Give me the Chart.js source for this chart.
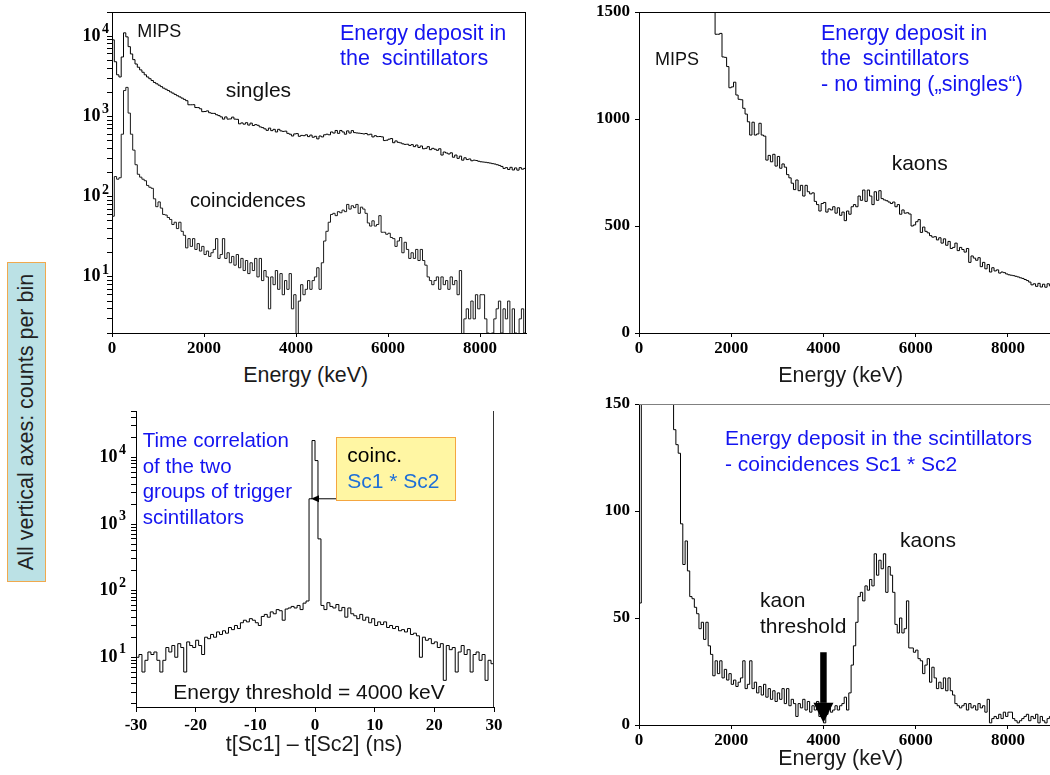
<!DOCTYPE html>
<html><head><meta charset="utf-8">
<script src="https://cdn.jsdelivr.net/npm/chart.js@4.4.1/dist/chart.umd.min.js"></script>
<style>
html,body{margin:0;padding:0;background:#fff;}
body{width:1050px;height:775px;overflow:hidden;position:relative;}
canvas{position:absolute;}
.lbl{position:absolute;white-space:pre;font-family:"Liberation Sans",Arial,sans-serif;}
.box{position:absolute;box-sizing:border-box;}
</style></head><body>
<script>
// ---------------- DATA ----------------
// energy spectra: 50 keV bins starting at 0 keV
const energyBinStart = 0;
const energyBinWidth = 50;
const singlesCounts = [
 9000,4800,3300,3100,5500,11000,9800,7400,6000,5100,
 4500,4100,3800,3550,3300,3100,2950,2800,2650,2550,
 2450,2350,2250,2180,2100,2020,1950,1880,1810,1750,
 1690,1630,1570,1396,1396,1400,1290,1288,1245,1146,
 1150,1172,1112,1092,1090,1050,1023,987,925,985,
 925,930,980,925,920,808,830,800,835,780,
 825,770,790,775,740,725,700,670,715,665,
 690,640,690,660,650,655,615,600,570,605,
 610,565,580,575,590,560,585,550,565,525,
 570,555,590,600,590,640,620,668,615,668,
 640,600,660,620,665,628,622,618,612,605,
 612,590,600,555,575,560,562,556,500,505,
 520,530,470,495,475,468,455,448,450,435,
 445,420,440,410,428,395,400,420,385,400,
 390,378,395,330,360,350,340,352,310,330,
 300,320,285,305,290,295,280,285,282,276,
 272,270,268,265,262,258,255,250,245,238,
 225,230,218,232,215,228,214,230,220,225
];
const coincCounts = [
 57,178,165,172,600,2100,2300,1100,600,380,
 250,190,175,165,158,138,131,127,94,75,
 86,72,60,59,55,52,45,48,40,48,
 37,33,23,30,24,30,22,26,21,24,
 19,21,18,20,22,30,17,19,30,17,
 20,15,18,14,19,13,17,12,16,11,
 15,12,17,10,17,9,12,10,4,10,
 8,12,7,11,6,9,7,11,4,6,
 1,5,8,6,7,9,7,9,10,13,
 7,15,28,37,48,60,62,58,65,63,
 68,65,80,70,77,73,80,62,74,70,
 62,47,43,50,43,45,58,36,36,34,
 35,31,30,24,28,31,20,27,22,17,
 20,17,22,16,22,16,14,10,9,8,
 9,10,7,10,8,9,7,10,8,9,
 6,12,1,3,4,3,5,3,6,4,
 6,6,3,2,1,2,3,4,5,2,
 4,3,5,1,4,2,1,3,4,2
];
// time difference spectrum: 0.5 ns bins starting at -30 ns
const timeBinStart = -30;
const timeBinWidth = 0.5;
const timeCounts = [
 10,11,6,9,12,11,12,9,6,9,
 14,12,15,10,16,14,6,17,15,14,
 18,15,11,20,19,22,20,24,22,25,
 23,28,26,30,27,33,36,34,38,36,
 33,30,41,44,40,48,45,52,50,36,
 53,55,58,55,60,52,65,70,
 2400,18000,9000,600,
 60,52,66,58,55,62,50,56,40,55,
 45,42,38,44,36,40,33,38,30,34,
 31,34,28,30,27,29,25,26,24,27,
 22,23,21,10,20,18,19,16,17,14,
 16,4.5,15,13,14,6,12,15,11,13,
 6,11,12,9,11,4.5,9,8
];
// tick labels
const energyTicks = [0, 2000, 4000, 6000, 8000];
const timeTicks = [-30, -20, -10, 0, 10, 20, 30];
const logDecadeTicks = [10, 100, 1000, 10000];
const singlesLinTicks = [0, 500, 1000, 1500];
const coincLinTicks = [0, 50, 100, 150];

// ---------------- HELPERS ----------------
const BLUE = '#1414f0';
const SERIF = '"Liberation Serif", "Times New Roman", serif';
const TICK_FONT = {family: SERIF, weight: 'bold', size: 17};

function histPoints(start, width, counts) {
  const pts = counts.map((c, i) => ({x: start + i * width, y: c}));
  pts.push({x: start + counts.length * width, y: counts[counts.length - 1]});
  return pts;
}
function logTickList(min, max) {
  const out = [];
  for (let e = 0; e <= 5; e++) for (let m = 1; m <= 9; m++) {
    const v = m * Math.pow(10, e);
    if (v >= min && v <= max) out.push({value: v, major: m === 1});
  }
  return out;
}

const framePlugin = {
  id: 'frame',
  afterDatasetsDraw(chart, args, opts) {
    const {ctx, chartArea: a} = chart;
    ctx.save();
    ctx.lineWidth = 1;
    if (opts.top) {
      ctx.strokeStyle = opts.top;
      ctx.beginPath(); ctx.moveTo(a.left, Math.round(a.top) + 0.5); ctx.lineTo(a.right, Math.round(a.top) + 0.5); ctx.stroke();
    }
    if (opts.right) {
      ctx.strokeStyle = opts.right;
      ctx.beginPath(); ctx.moveTo(Math.round(a.right) - 0.5, a.top); ctx.lineTo(Math.round(a.right) - 0.5, a.bottom); ctx.stroke();
    }
    ctx.restore();
  }
};
const arrowPlugin = {
  id: 'arrows',
  afterDatasetsDraw(chart, args, opts) {
    const {ctx} = chart;
    const xs = chart.scales.x, ys = chart.scales.y;
    (opts.items || []).forEach(a => {
      const x1 = xs.getPixelForValue(a.x1), y1 = ys.getPixelForValue(a.y1);
      const x2 = xs.getPixelForValue(a.x2), y2 = ys.getPixelForValue(a.y2);
      const ang = Math.atan2(y2 - y1, x2 - x1);
      const bx = x2 - a.headLength * Math.cos(ang), by = y2 - a.headLength * Math.sin(ang);
      const hw = a.headWidth / 2;
      ctx.save();
      ctx.strokeStyle = a.color; ctx.fillStyle = a.color;
      ctx.lineWidth = a.shaftWidth;
      ctx.beginPath(); ctx.moveTo(x1, y1); ctx.lineTo(bx, by); ctx.stroke();
      ctx.beginPath();
      ctx.moveTo(x2, y2);
      ctx.lineTo(bx - hw * Math.sin(ang), by + hw * Math.cos(ang));
      ctx.lineTo(bx + hw * Math.sin(ang), by - hw * Math.cos(ang));
      ctx.closePath(); ctx.fill();
      ctx.restore();
    });
  }
};
// decade labels "10" with a raised exponent, placed at the log scale's own tick pixels
const logLabelPlugin = {
  id: 'logLabels',
  afterDraw(chart, args, opts) {
    if (!opts || opts.gap === undefined) return;
    const ys = chart.scales.y, ctx = chart.ctx;
    ctx.save();
    ctx.fillStyle = '#000';
    ctx.textAlign = 'right';
    ctx.textBaseline = 'alphabetic';
    logDecadeTicks.forEach(v => {
      if (v < ys.min || v > ys.max) return;
      const py = ys.getPixelForValue(v);
      const xr = ys.right - opts.gap;
      const exp = String(Math.round(Math.log10(v)));
      ctx.font = 'bold ' + opts.supSize + 'px ' + SERIF;
      ctx.fillText(exp, xr, py + opts.supDy);
      const w = ctx.measureText(exp).width;
      ctx.font = 'bold ' + opts.size + 'px ' + SERIF;
      ctx.fillText('10', xr - w - opts.space, py + opts.dy);
    });
    ctx.restore();
  }
};

function xScale(min, max, ticks, xH, tl, pad) {
  return {
    type: 'linear', min, max, offset: false,
    afterBuildTicks: s => { s.ticks = ticks.map(v => ({value: v})); },
    afterFit: s => { s.height = xH; },
    ticks: {autoSkip: false, maxRotation: 0, padding: pad, color: '#000', font: TICK_FONT, callback: v => String(v)},
    grid: {display: true, drawOnChartArea: false, drawTicks: true, tickLength: tl, color: '#000', tickColor: '#000'},
    border: {display: true, color: '#000', width: 1}
  };
}
function yLogScale(min, max, yW, tl) {
  return {
    type: 'logarithmic', min, max,
    afterBuildTicks: s => { s.ticks = logTickList(min, max); },
    afterFit: s => { s.width = yW; },
    ticks: {autoSkip: false, padding: 0, color: '#000', font: TICK_FONT, callback: () => ''},
    grid: {display: true, drawOnChartArea: false, drawTicks: true, tickLength: tl, color: '#000', tickColor: '#000'},
    border: {display: true, color: '#000', width: 1}
  };
}
function yLinScale(min, max, ticks, yW, tl, pad) {
  return {
    type: 'linear', min, max,
    afterBuildTicks: s => { s.ticks = ticks.map(v => ({value: v})); },
    afterFit: s => { s.width = yW; },
    ticks: {autoSkip: false, padding: pad, color: '#000', font: TICK_FONT, callback: v => String(v)},
    grid: {display: true, drawOnChartArea: false, drawTicks: true, tickLength: tl, color: '#000', tickColor: '#000'},
    border: {display: true, color: '#000', width: 1}
  };
}
function histDataset(points, color) {
  return {data: points, borderColor: color, borderWidth: 1, pointRadius: 0, stepped: true, fill: false, clip: 0, tension: 0};
}

// panel geometry: chart area in page pixels
const PT = 20, PR = 20;
function makePanel(area, yW, xH, scales, datasets, pluginOpts) {
  const c = document.createElement('canvas');
  const w = yW + (area.R - area.L) + PR;
  const h = PT + (area.B - area.T) + xH;
  c.width = w; c.height = h;
  c.style.width = w + 'px'; c.style.height = h + 'px';
  c.style.left = (area.L - yW) + 'px'; c.style.top = (area.T - PT) + 'px';
  document.body.appendChild(c);
  return new Chart(c.getContext('2d'), {
    type: 'line',
    data: {datasets},
    options: {
      responsive: false, animation: false, events: [],
      layout: {padding: {top: PT, right: PR, left: 0, bottom: 0}},
      scales,
      plugins: Object.assign({legend: {display: false}, tooltip: {enabled: false}}, pluginOpts)
    },
    plugins: [framePlugin, arrowPlugin, logLabelPlugin]
  });
}

Chart.defaults.font.family = '"Liberation Sans", Arial, sans-serif';

const singlesPts = histPoints(energyBinStart, energyBinWidth, singlesCounts);
const coincPts = histPoints(energyBinStart, energyBinWidth, coincCounts);
const timePts = histPoints(timeBinStart, timeBinWidth, timeCounts);

// Panel 1: log, singles + coincidences
makePanel({L: 112, T: 12, R: 526, B: 333}, 70, 30,
  {x: xScale(0, 9000, energyTicks, 30, 4, 1), y: yLogScale(2, 20000, 70, 5)},
  [histDataset(singlesPts, '#000'), histDataset(coincPts, '#1a1a1a')],
  {frame: {top: '#000', right: '#000'},
   logLabels: {gap: 3, size: 18, supSize: 14, dy: 4.5, supDy: -3, space: 1.5}});

// Panel 2: linear singles
makePanel({L: 639, T: 12, R: 1054, B: 333}, 60, 30,
  {x: xScale(0, 9000, energyTicks, 30, 4, 1), y: yLinScale(0, 1500, singlesLinTicks, 60, 4, 5)},
  [histDataset(singlesPts, '#000')],
  {frame: {top: '#000'}});

// Panel 3: time correlation, log
makePanel({L: 136, T: 411, R: 494, B: 707}, 60, 34,
  {x: xScale(-30, 30, timeTicks, 34, 5, 3), y: yLogScale(1.79, 50000, 60, 5)},
  [histDataset(timePts, '#000')],
  {frame: {right: '#333'},
   logLabels: {gap: 10, size: 18, supSize: 14, dy: 4.5, supDy: -4, space: 1.5},
   arrows: {items: [{x1: 3.52, y1: 2400, x2: -0.67, y2: 2400, color: '#000', shaftWidth: 1, headLength: 8, headWidth: 7}]}});

// Panel 4: linear coincidences
makePanel({L: 639, T: 404, R: 1054, B: 725}, 60, 30,
  {x: xScale(0, 9000, energyTicks, 30, 4, 1), y: yLinScale(0, 150, coincLinTicks, 60, 4, 5)},
  [histDataset(coincPts, '#000')],
  {frame: {top: '#808080'},
   arrows: {items: [{x1: 4000, y1: 34, x2: 4000, y2: 1, color: '#000', shaftWidth: 6.5, headLength: 20, headWidth: 20}]}});

// ---------------- BOXES & TEXT ----------------
function addBox(x, y, w, h, bg, border) {
  const d = document.createElement('div');
  d.className = 'box';
  Object.assign(d.style, {left: x + 'px', top: y + 'px', width: w + 'px', height: h + 'px', background: bg, border: '1.5px solid ' + border});
  document.body.appendChild(d);
  return d;
}
function addText(n) {
  const d = document.createElement('div');
  d.className = 'lbl';
  const gap = n.g || n.s * 1.2;
  d.style.fontSize = n.s + 'px';
  d.style.lineHeight = gap + 'px';
  d.style.color = n.c;
  d.style.left = n.x + 'px';
  d.style.top = (n.b - ((gap - 1.117 * n.s) / 2 + 0.905 * n.s)) + 'px';
  d.textContent = n.t.join('\n');
  document.body.appendChild(d);
}

// rotated side label
const side = addBox(7, 262, 39, 320, '#bbe1e5', '#f0a94e');
const sideTxt = document.createElement('div');
sideTxt.className = 'lbl';
Object.assign(sideTxt.style, {left: '50%', top: '50%', fontSize: '21.5px', lineHeight: '21.5px', color: '#222',
  transform: 'translate(-50%,-50%) rotate(-90deg)'});
sideTxt.textContent = 'All vertical axes: counts per bin';
side.appendChild(sideTxt);

// yellow box in panel 3
addBox(336, 437, 120, 64, '#fff6a3', '#f4a640');

const notes = [
  {t: ['MIPS'], x: 137.3, b: 38.3, s: 18, c: '#111'},
  {t: ['Energy deposit in', 'the  scintillators'], x: 340, b: 41, s: 21.5, c: BLUE, g: 25.7},
  {t: ['singles'], x: 225.7, b: 96.7, s: 21, c: '#111'},
  {t: ['coincidences'], x: 190, b: 207.3, s: 20, c: '#111'},
  {t: ['Energy (keV)'], x: 243.3, b: 383.3, s: 21.4, c: '#1a1a1a'},

  {t: ['MIPS'], x: 655, b: 65.7, s: 18, c: '#111'},
  {t: ['Energy deposit in', 'the  scintillators', '- no timing (\u201esingles\u201c)'], x: 821, b: 41, s: 21.5, c: BLUE, g: 25.5},
  {t: ['kaons'], x: 891.7, b: 170, s: 21, c: '#111'},
  {t: ['Energy (keV)'], x: 778.3, b: 383.3, s: 21.4, c: '#1a1a1a'},

  {t: ['Time correlation', 'of the two', 'groups of trigger', 'scintillators'], x: 142.7, b: 446.7, s: 20.5, c: BLUE, g: 25.9},
  {t: ['coinc.'], x: 347.3, b: 461.7, s: 21, c: '#000'},
  {t: ['Sc1 * Sc2'], x: 347.3, b: 488.3, s: 21, c: '#1e6fd8'},
  {t: ['Energy threshold = 4000 keV'], x: 173.3, b: 699.3, s: 21, c: '#111'},
  {t: ['t[Sc1] \u2013 t[Sc2] (ns)'], x: 225.7, b: 752.5, s: 21.5, c: '#1a1a1a'},

  {t: ['Energy deposit in the scintillators', '- coincidences Sc1 * Sc2'], x: 725, b: 445, s: 21, c: BLUE, g: 25.7},
  {t: ['kaons'], x: 900, b: 546.7, s: 21, c: '#111'},
  {t: ['kaon', 'threshold'], x: 760, b: 607.3, s: 21, c: '#111', g: 26},
  {t: ['Energy (keV)'], x: 778.3, b: 766, s: 21.4, c: '#1a1a1a'}
];
notes.forEach(addText);
</script>
</body></html>
